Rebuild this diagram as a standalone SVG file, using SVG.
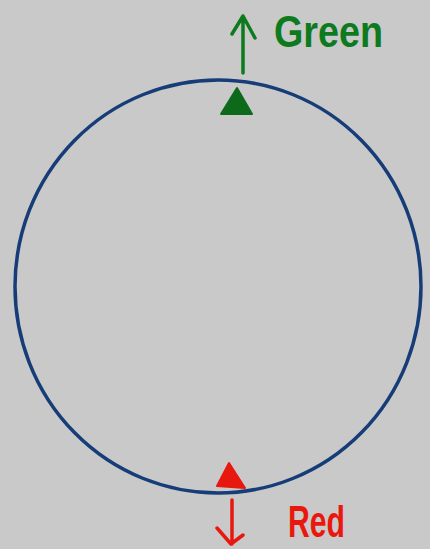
<svg xmlns="http://www.w3.org/2000/svg" width="430" height="549" viewBox="0 0 430 549">
<style>
.green{stroke:#0d7a1e;fill:none;stroke-width:3.5;stroke-linecap:round;stroke-linejoin:round}
.red{stroke:#e8180e;fill:none;stroke-width:3.5;stroke-linecap:round;stroke-linejoin:round}
.lbl{font-family:"Liberation Sans",sans-serif;font-weight:bold}
</style>
<rect width="430" height="549" fill="#c9c9c9"/>
<g id="circle">
<ellipse cx="218" cy="286.5" rx="203" ry="206.5" fill="none" stroke="#163d78" stroke-width="3.5"/>
</g>
<g id="connectors">
<path class="green" d="M243 73 V16 M232 34 L243 16 L255 38"/>
<path class="red" d="M232 500 V544 M217 528 L231 544 L243 535"/>
</g>
<g id="green-marker">
<polygon points="237,88 221,114 252,114" fill="#0d6a1a" stroke="#0d6a1a" stroke-width="2" stroke-linejoin="round"/>
<text class="lbl" x="274" y="47" font-size="44" fill="#0d7a1e" textLength="109" lengthAdjust="spacingAndGlyphs">Green</text>
</g>
<g id="red-marker">
<polygon points="229,463 217,486 245,488" fill="#e8180e" stroke="#e8180e" stroke-width="2" stroke-linejoin="round"/>
<text class="lbl" x="288" y="537" font-size="44" fill="#e8180e" textLength="57" lengthAdjust="spacingAndGlyphs">Red</text>
</g>
</svg>
